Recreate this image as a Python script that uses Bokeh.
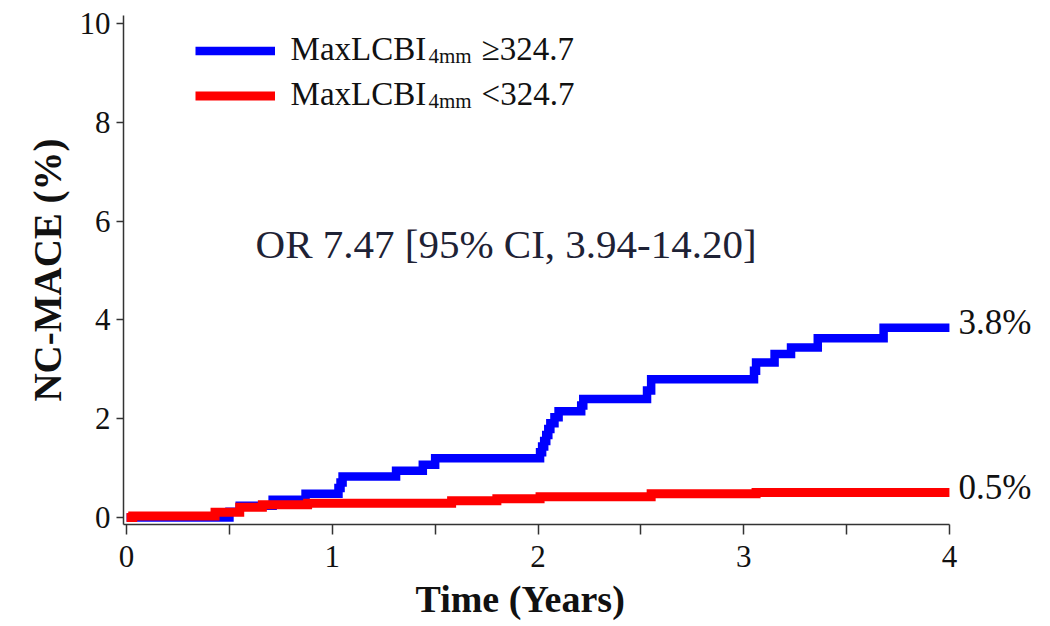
from bokeh.plotting import figure
from bokeh.models import FixedTicker, Label, Legend, LegendItem, Range1d, Title
from bokeh.embed import file_html
from bokeh.resources import INLINE

# ---- data ----
blue_name = "MaxLCBI"
blue_sub = "4mm"
blue_rest = "\u2265324.7"
red_rest = "<324.7"

blue_t = [0, 0.50, 0.55, 0.71, 0.87, 1.03, 1.04, 1.05, 1.31, 1.44, 1.50, 2.01, 2.02, 2.03,
          2.04, 2.05, 2.06, 2.08, 2.10, 2.21, 2.22, 2.53, 2.55, 3.05, 3.06, 3.15, 3.23, 3.36,
          3.68, 4.0]
blue_y = [0, 0.12, 0.24, 0.36, 0.48, 0.60, 0.71, 0.83, 0.95, 1.07, 1.20, 1.32, 1.44, 1.55,
          1.67, 1.79, 1.91, 2.03, 2.15, 2.27, 2.40, 2.57, 2.80, 2.97, 3.14, 3.31, 3.44, 3.63,
          3.84, 3.84]

red_t = [0, 0.03, 0.43, 0.55, 0.66, 0.88, 1.58, 1.80, 2.01, 2.55, 3.06, 4.0]
red_y = [0, 0.03, 0.11, 0.21, 0.26, 0.29, 0.34, 0.38, 0.42, 0.48, 0.51, 0.51]

end_labels = ["3.8%", "0.5%"]
x_ticks = [0, 1, 2, 3, 4]
x_minor = [0.5, 1.5, 2.5, 3.5]
y_ticks = [0, 2, 4, 6, 8, 10]
annotation = "OR 7.47 [95% CI, 3.94-14.20]"
x_title = "Time (Years)"
y_title = "NC-MACE (%)"

SERIF = "Liberation Serif"
BLUE = "#0000ff"
RED = "#ff0000"

p = figure(width=1050, height=626, output_backend="svg", toolbar_location=None,
           x_range=Range1d(-0.015, 4.467), y_range=Range1d(-0.14, 10.16),
           min_border_left=123, min_border_right=5, min_border_top=15, min_border_bottom=102)
p.outline_line_color = None
p.grid.visible = False
p.background_fill_color = "white"
p.border_fill_color = "white"

r_blue = p.step(blue_t, blue_y, mode="after", line_color=BLUE, line_width=8.5,
                line_join="miter", line_cap="butt")
r_red = p.step(red_t, red_y, mode="after", line_color=RED, line_width=9,
               line_join="miter", line_cap="butt")

# axes
xa = p.xaxis[0]
xa.ticker = FixedTicker(ticks=x_ticks, minor_ticks=x_minor)
xa.bounds = (-0.015, 4)
xa.major_tick_in = 0
xa.major_tick_out = 10
xa.minor_tick_in = 0
xa.minor_tick_out = 10
xa.major_label_standoff = 11

ya = p.yaxis[0]
ya.ticker = FixedTicker(ticks=y_ticks)
ya.major_tick_in = 0
ya.major_tick_out = 7
ya.minor_tick_line_color = None
ya.major_label_standoff = 6
ya.axis_label = y_title
ya.axis_label_standoff = 8
ya.axis_label_text_font = SERIF
ya.axis_label_text_font_style = "bold"
ya.axis_label_text_font_size = "39px"
ya.axis_label_text_color = "#111111"

for ax in (xa, ya):
    ax.axis_line_color = "#333333"
    ax.axis_line_width = 1.5
    ax.major_tick_line_color = "#333333"
    ax.major_tick_line_width = 1.5
    ax.minor_tick_line_color = "#333333" if ax is xa else None
    ax.minor_tick_line_width = 1.5
    ax.major_label_text_font = SERIF
    ax.major_label_text_font_size = "31px"
    ax.major_label_text_color = "#111111"

# x-axis title, placed under the 0-4 span of the axis
p.add_layout(Title(text=x_title, align="left", offset=292, standoff=12,
                   text_font=SERIF, text_font_style="bold", text_font_size="38px",
                   text_color="#111111"), "below")

# legend swatches
legend = Legend(items=[LegendItem(label=" ", renderers=[r_blue]),
                       LegendItem(label=" ", renderers=[r_red])],
                location=(72, 406), orientation="vertical",
                glyph_width=80, glyph_height=45, label_text_font_size="1px",
                label_standoff=0, label_width=1, label_height=1,
                padding=0, spacing=0, margin=0,
                border_line_color=None, background_fill_alpha=0)
p.add_layout(legend, "center")

def dx(px):
    return (px - 126) / 205.75

def dy(py):
    return (517 - py) / 49.5

for base_py, rest in ((48, blue_rest), (93, red_rest)):
    p.add_layout(Label(x=dx(290), y=dy(base_py), text=blue_name, text_font=SERIF,
                       text_font_size="33px", text_color="#111111", text_baseline="alphabetic"))
    p.add_layout(Label(x=dx(428), y=dy(base_py + 7), text=blue_sub, text_font=SERIF,
                       text_font_size="21px", text_color="#111111", text_baseline="alphabetic"))
    p.add_layout(Label(x=dx(481), y=dy(base_py), text=rest, text_font=SERIF,
                       text_font_size="33px", text_color="#111111", text_baseline="alphabetic"))

p.add_layout(Label(x=dx(255), y=dy(243), text=annotation, text_font=SERIF,
                   text_font_size="41px", text_color="#1e2235", text_baseline="alphabetic"))

for xs, ys, lab in ((blue_t, blue_y, end_labels[0]), (red_t, red_y, end_labels[1])):
    p.add_layout(Label(x=xs[-1], y=ys[-1], text=lab, x_offset=9, y_offset=5, text_font=SERIF,
                       text_font_size="35px", text_color="#111111", text_baseline="middle"))

open("out.html", "w").write(file_html(p, INLINE))
